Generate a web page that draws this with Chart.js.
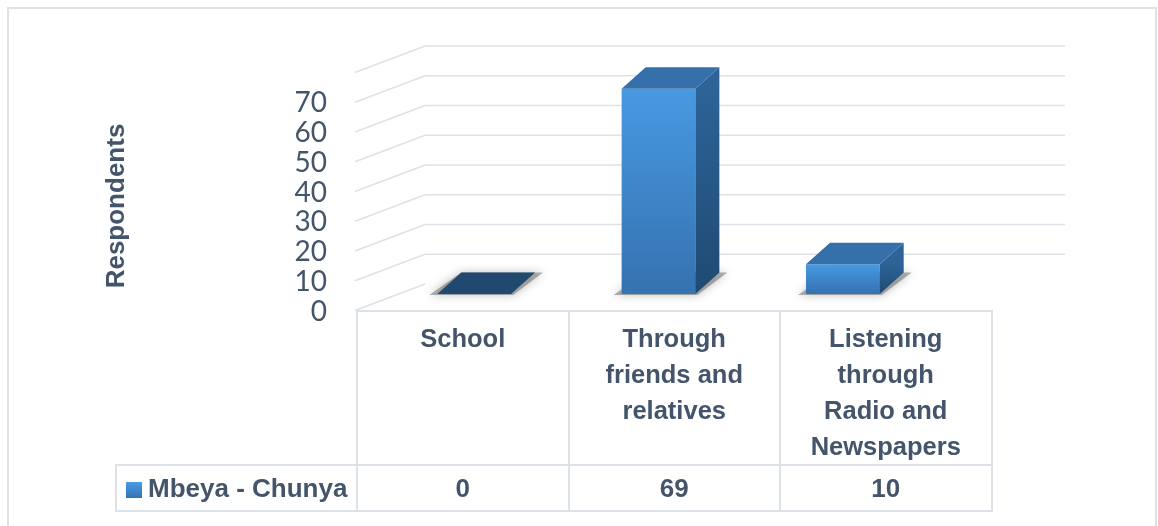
<!DOCTYPE html>
<html>
<head>
<meta charset="utf-8">
<script src="https://cdn.jsdelivr.net/npm/chart.js@4.4.1/dist/chart.umd.min.js"></script>
<style>
    body { margin: 0; background: #fff; }
    #wrap { position: relative; width: 1158px; height: 526px; overflow: hidden; }
    #frame { position: absolute; left: 7px; top: 7px; width: 1150px; height: 600px; border: 2px solid #dfe3e9; box-sizing: border-box; }
    canvas { position: absolute; left: 0; top: 0; }
    #dataTable { position: absolute; left: 115px; top: 310px; border-collapse: collapse; table-layout: fixed;
        font-family: 'Liberation Sans', Arial, sans-serif; font-weight: bold; color: #44546a; }
    #dataTable th, #dataTable td { border: 2px solid #dde1e8; padding: 0; text-align: center; }
    #dataTable th { vertical-align: top; font-size: 25.5px; line-height: 36px; padding-top: 8px; height: 142px; }
    #dataTable th.blank { border: none; }
    #dataTable td { font-size: 26px; height: 44px; vertical-align: middle; }
    #dataTable td.series { text-align: left; padding-left: 9px; white-space: nowrap; }
    .swatch { display: inline-block; width: 16px; height: 16px; margin-right: 6px; vertical-align: -1px;
        background: linear-gradient(#4a9be6, #3572b0); }
</style>
</head>
<body>
<div id="wrap">
    <div id="frame"></div>
    <canvas id="sourceChart" width="1158" height="526"></canvas>
    <table id="dataTable"></table>
</div>
<script>
// Chart data
const categories = [['School'], ['Through', 'friends and', 'relatives'], ['Listening', 'through', 'Radio and', 'Newspapers']];
const seriesName = 'Mbeya - Chunya';
const values = [0, 69, 10];
const yTicks = [0, 10, 20, 30, 40, 50, 60, 70];
const gridMax = 80;
const axisTitle = 'Respondents';

const textColor = '#44546a';
const gridColor = '#dde1e8';

// fake 3D geometry (offsets from the bar plane)
const depth = { dx: 24, dy: -21.5 };
const wall = { frontX: 355, frontDy: 16.5, backX: 425, backDy: -10, rightX: 1065, labelX: 327, labelDy: 17.5 };

// Data table under the plot
const table = document.getElementById('dataTable');
const headRow = table.insertRow();
const blank = document.createElement('th');
blank.className = 'blank';
blank.style.width = '240px';
headRow.appendChild(blank);
categories.forEach(lines => {
    const th = document.createElement('th');
    th.style.width = '209.5px';
    th.innerHTML = lines.join('<br>');
    headRow.appendChild(th);
});
const valueRow = table.insertRow();
const nameCell = valueRow.insertCell();
nameCell.className = 'series';
nameCell.innerHTML = '<span class="swatch"></span>' + seriesName;
values.forEach(v => {
    valueRow.insertCell().textContent = v;
});

function frontGradient(context) {
    const chart = context.chart;
    const y = chart.scales.y;
    if (!y || !chart.chartArea) return '#3f86cc';
    const top = y.getPixelForValue(context.raw);
    const base = y.getPixelForValue(0);
    if (!Number.isFinite(top) || !Number.isFinite(base) || base - top < 1) return '#3f86cc';
    const g = chart.ctx.createLinearGradient(0, top, 0, base);
    g.addColorStop(0, '#4899e2');
    g.addColorStop(1, '#3572b0');
    return g;
}

const bar3d = {
    id: 'bar3d',
    beforeDatasetsDraw(chart) {
        const { ctx, scales: { y } } = chart;
        ctx.save();

        // side wall + back wall gridlines
        ctx.strokeStyle = gridColor;
        ctx.lineWidth = 1.6;
        yTicks.concat(gridMax).forEach(v => {
            const py = y.getPixelForValue(v);
            ctx.beginPath();
            ctx.moveTo(wall.frontX, py + wall.frontDy);
            ctx.lineTo(wall.backX, py + wall.backDy);
            if (v > 0) ctx.lineTo(wall.rightX, py + wall.backDy);
            ctx.stroke();
        });

        // tick labels
        ctx.fillStyle = textColor;
        ctx.font = '28px Lato';
        ctx.textAlign = 'right';
        ctx.textBaseline = 'middle';
        yTicks.forEach(v => ctx.fillText(String(v), wall.labelX, y.getPixelForValue(v) + wall.labelDy));

        // axis title
        ctx.save();
        ctx.translate(117, 206);
        ctx.rotate(-Math.PI / 2);
        ctx.font = 'bold 26px "Liberation Sans"';
        ctx.textAlign = 'center';
        ctx.fillText(axisTitle, 0, 0);
        ctx.restore();

        // soft floor shadows
        chart.getDatasetMeta(0).data.forEach(bar => {
            const l = bar.x - bar.width / 2, r = bar.x + bar.width / 2, b = bar.base;
            ctx.save();
            ctx.shadowColor = 'rgba(0,0,0,0.5)';
            ctx.shadowBlur = 10;
            ctx.fillStyle = 'rgba(100,100,100,0.5)';
            ctx.beginPath();
            ctx.moveTo(l - 8, b + 1);
            ctx.lineTo(r + 2, b + 1);
            ctx.lineTo(r + depth.dx + 8, b + depth.dy);
            ctx.lineTo(l + depth.dx, b + depth.dy);
            ctx.closePath();
            ctx.fill();
            ctx.restore();
        });
        ctx.restore();
    },
    afterDatasetsDraw(chart) {
        const { ctx } = chart;
        const meta = chart.getDatasetMeta(0);
        ctx.save();
        meta.data.forEach((bar, i) => {
            const l = bar.x - bar.width / 2, r = bar.x + bar.width / 2;
            const t = bar.y, b = bar.base;
            if (b - t > 0.5) {
                // right side face
                const side = ctx.createLinearGradient(0, t, 0, b);
                side.addColorStop(0, '#2d6397');
                side.addColorStop(1, '#1f4a72');
                ctx.fillStyle = side;
                ctx.beginPath();
                ctx.moveTo(r, t);
                ctx.lineTo(r + depth.dx, t + depth.dy);
                ctx.lineTo(r + depth.dx, b + depth.dy);
                ctx.lineTo(r, b);
                ctx.closePath();
                ctx.fill();
            }
            // top face
            ctx.fillStyle = values[i] === 0 ? '#21496f' : '#3570aa';
            ctx.beginPath();
            ctx.moveTo(l, t);
            ctx.lineTo(l + depth.dx, t + depth.dy);
            ctx.lineTo(r + depth.dx, t + depth.dy);
            ctx.lineTo(r, t);
            ctx.closePath();
            ctx.fill();
        });
        ctx.restore();
    }
};

const ctx = document.getElementById('sourceChart').getContext('2d');
const sourceChart = new Chart(ctx, {
    type: 'bar',
    data: {
        labels: categories,
        datasets: [{
            label: seriesName,
            data: values,
            backgroundColor: frontGradient,
            borderWidth: 0,
            barPercentage: 0.4,
            categoryPercentage: 1
        }]
    },
    options: {
        responsive: false,
        animation: false,
        layout: {
            padding: { left: 382, right: 223, top: 56, bottom: 232 }
        },
        scales: {
            x: { display: false, offset: true },
            y: { display: false, min: 0, max: gridMax }
        },
        plugins: {
            legend: { display: false },
            tooltip: { enabled: false }
        }
    },
    plugins: [bar3d]
});
</script>
</body>
</html>
